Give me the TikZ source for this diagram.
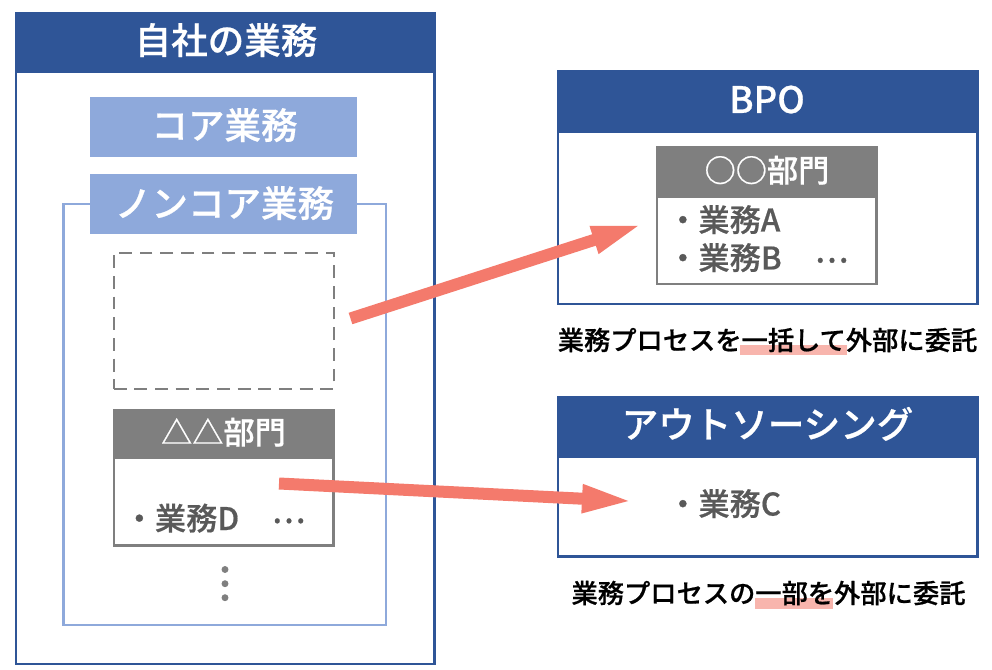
\documentclass[tikz,border=0pt]{standalone}
\usepackage{fontspec}
\setmainfont{Noto Sans CJK JP Medium}[FakeBold=0.6]
\usetikzlibrary{arrows.meta}
\definecolor{navy}{HTML}{2F5597}
\definecolor{lightblue}{HTML}{8EA9DB}
\definecolor{midgray}{HTML}{7F7F7F}
\definecolor{bodygray}{HTML}{595959}
\definecolor{salmon}{HTML}{F47A6C}
\definecolor{hilite}{HTML}{F8B5AD}
\tikzset{
  pane/.style={draw=navy,line width=1.7pt,fill=white,inner sep=0pt},
  panehead/.style={fill=navy,draw=navy,line width=0.75pt,inner sep=0pt},
  softhead/.style={fill=lightblue,inner sep=0pt},
  softframe/.style={draw=lightblue,line width=1.8pt,inner sep=0pt},
  deptframe/.style={draw=midgray,line width=1.55pt,fill=white,inner sep=0pt},
  depthead/.style={fill=midgray,inner sep=0pt},
  dashframe/.style={draw=midgray,line width=1.75pt,dash pattern=on 9.6pt off 5.9pt,inner sep=0pt},
  bigtext/.style={text=white,font=\fontsize{27.4}{28}\selectfont,anchor=base,inner sep=0pt},
  midtext/.style={text=white,font=\fontsize{23.4}{24}\selectfont,anchor=base,inner sep=0pt},
  itemtext/.style={text=bodygray,font=\fontsize{23.4}{24}\selectfont,anchor=base west,inner sep=0pt},
  captext/.style={text=black,font=\fontsize{19.7}{20}\selectfont,anchor=base,inner sep=0pt},
  hibar/.style={fill=hilite,inner sep=0pt},
  dotmark/.style={circle,fill=midgray,minimum size=5.2pt,inner sep=0pt},
  bigarrow/.style={draw=salmon,line width=9pt,-{Triangle[length=39pt,width=19pt,fill=salmon]}},
}
\newcommand{\bx}[7]{% name style x1 y1 x2 y2 (px), extra
  \node[#2,minimum width={(#5-#3)*0.75pt},minimum height={(#6-#4)*0.75pt},#7] (#1) at ({(#3+#5)/2},{(#4+#6)/2}) {};}
\begin{document}
\begin{tikzpicture}[x=0.75pt,y=-0.75pt]
\useasboundingbox (0,0) rectangle (992,670);
% left panel
\bx{own}{pane}{16}{13}{434.5}{664}{}
\bx{ownhead}{panehead}{16}{13}{434.5}{73}{}
\node[bigtext] (ownt) at (226,54) {自社の業務};
\bx{core}{softhead}{90}{97}{357}{157}{}
\node[bigtext] (coret) at (224.5,139) {コア業務};
\bx{noncoreframe}{softframe}{63.5}{204}{385.7}{625}{}
\bx{noncore}{softhead}{90}{174.5}{357}{234}{}
\node[bigtext] (noncoret) at (224.5,217) {ノンコア業務};
\bx{moved}{dashframe}{113.7}{252.7}{333.7}{388.7}{}
\bx{dept}{deptframe}{114}{410}{333.5}{545.5}{}
\bx{depthd}{depthead}{113}{409}{334}{459}{}
\node[midtext] (deptt) at (223.5,444) {△△部門};
\node[itemtext] (itemd) at (123.5,530) {・業務D};
\node[itemtext] (moredots) at (271.5,523) {…};
\node[dotmark] (d1) at (225,569.5) {};
\node[dotmark] (d2) at (225,583.7) {};
\node[dotmark] (d3) at (225,597.7) {};
% BPO
\bx{bpo}{pane}{558}{71.5}{977.5}{304}{}
\bx{bpohead}{panehead}{558}{71.5}{977.5}{133}{}
\node[bigtext] (bpot) at (767,113) {BPO};
\bx{oo}{deptframe}{657}{147}{876.5}{284}{}
\bx{oohd}{depthead}{656}{146}{877.3}{198}{}
\node[midtext] (oot) at (767,182) {○○部門};
\node[itemtext] (itema) at (667,231.5) {・業務A};
\node[itemtext] (itemb) at (667,269.5) {・業務B};
\node[itemtext] (moredotsb) at (814.5,262.5) {…};
\bx{hione}{hibar}{740}{345}{847}{355}{}
\node[captext] (capone) at (767.5,350) {業務プロセスを一括して外部に委託};
% Outsourcing
\bx{out}{pane}{558}{397}{977.5}{556.5}{}
\bx{outhead}{panehead}{558}{397}{977.5}{457}{}
\node[bigtext] (outt) at (767.5,438) {アウトソーシング};
\node[itemtext] (itemc) at (667,515.5) {・業務C};
\bx{hitwo}{hibar}{755}{598}{833}{609}{}
\node[captext] (captwo) at (768.5,603) {業務プロセスの一部を外部に委託};
% arrows
\coordinate (aone) at (350.5,318.5);
\coordinate (bone) at (643.5,224);
\coordinate (atwo) at (279,483.5);
\coordinate (btwo) at (634,501.3);
\draw[bigarrow] (aone) -- (bone);
\draw[bigarrow] (atwo) -- (btwo);
\end{tikzpicture}
\end{document}
